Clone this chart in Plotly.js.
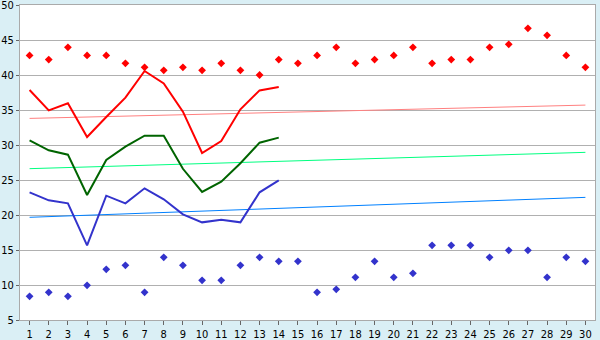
<!DOCTYPE html>
<html><head><meta charset="utf-8">
<script src="https://cdn.plot.ly/plotly-3.0.1.min.js"></script>
<style>html,body{margin:0;padding:0;background:#daeff5;}#chart{width:600px;height:340px;}</style>
</head><body><div id="chart"></div>
<script>
const days = [1,2,3,4,5,6,7,8,9,10,11,12,13,14,15,16,17,18,19,20,21,22,23,24,25,26,27,28,29,30];
const lineDays = [1,2,3,4,5,6,7,8,9,10,11,12,13,14];
const redDots = [42.8,42.2,43.95,42.8,42.8,41.67,41.1,40.67,41.1,40.67,41.67,40.67,40.0,42.2,41.67,42.8,43.95,41.67,42.2,42.8,43.95,41.67,42.2,42.2,43.95,44.38,46.67,45.67,42.8,41.1];
const blueDots = [8.38,8.95,8.38,9.95,12.24,12.81,8.95,13.95,12.81,10.67,10.67,12.81,13.95,13.38,13.38,8.95,9.38,11.1,13.38,11.1,11.67,15.67,15.67,15.67,13.95,14.95,14.95,11.1,13.95,13.38];
const redLine = [37.86,34.95,35.95,31.14,34.0,36.76,40.57,38.8,34.76,28.86,30.57,35.1,37.8,38.3];
const greenLine = [30.67,29.24,28.62,22.86,27.86,29.76,31.33,31.33,26.6,23.3,24.76,27.4,30.33,31.05];
const blueLine = [23.24,22.1,21.67,15.67,22.76,21.67,23.81,22.24,20.1,18.95,19.33,18.95,23.24,24.95];
const trendDays = [1,30];
const redTrend = [33.8,35.7];
const greenTrend = [26.62,28.95];
const blueTrend = [19.67,22.52];
const yTicks = [5,10,15,20,25,30,35,40,45,50];

const traces = [
  {x:trendDays,y:redTrend,mode:'lines',line:{color:'#ff8080',width:1}},
  {x:trendDays,y:greenTrend,mode:'lines',line:{color:'#00ff80',width:1}},
  {x:trendDays,y:blueTrend,mode:'lines',line:{color:'#0080ff',width:1}},
  {x:lineDays,y:redLine,mode:'lines',line:{color:'#ff0000',width:2}},
  {x:lineDays,y:greenLine,mode:'lines',line:{color:'#006400',width:2}},
  {x:lineDays,y:blueLine,mode:'lines',line:{color:'#3333cc',width:2}},
  {x:days,y:redDots,mode:'markers',marker:{symbol:'diamond',size:6,color:'#ff0000'}},
  {x:days,y:blueDots,mode:'markers',marker:{symbol:'diamond',size:6,color:'#3333cc'}}
];
const layout = {
  width:600,height:340,
  margin:{l:20,r:5,t:5,b:20,pad:0},
  paper_bgcolor:'#daeff5',plot_bgcolor:'#ffffff',
  showlegend:false,
  font:{family:'DejaVu Sans Condensed, DejaVu Sans, sans-serif',size:11,color:'#000'},
  xaxis:{range:[0.5,30.5],tickvals:days,ticktext:days.map(String),showgrid:false,zeroline:false,
    showline:true,linecolor:'#aaaaaa',linewidth:1,mirror:true,ticks:'outside',ticklen:4,tickcolor:'#666',
    tickfont:{size:11},ticklabeloverflow:'allow',fixedrange:true},
  yaxis:{range:[5,50],tickvals:yTicks,showgrid:true,gridcolor:'#b0b0b0',gridwidth:1,zeroline:false,
    showline:true,linecolor:'#aaaaaa',linewidth:1,mirror:true,ticks:'outside',ticklen:3,tickcolor:'#666',
    tickfont:{size:11},ticklabeloverflow:'allow',fixedrange:true}
};
Plotly.newPlot('chart',traces,layout,{staticPlot:true});
</script></body></html>
